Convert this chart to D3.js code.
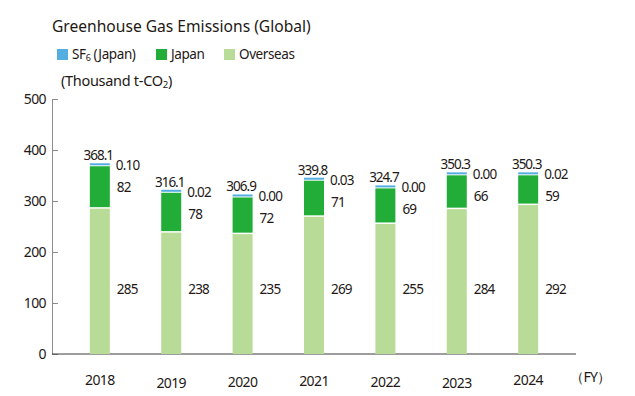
<!DOCTYPE html>
<html>
<head>
<meta charset="utf-8">
<script src="https://cdn.jsdelivr.net/npm/d3@7"></script>
<style>
  body { margin: 0; background: #fff; }
  svg text { font-family: "Noto Sans", "Open Sans", sans-serif; fill: #231815; }
</style>
</head>
<body>
<div id="chart"></div>
<script>
const years = ["2018", "2019", "2020", "2021", "2022", "2023", "2024"];
const overseas = [285, 238, 235, 269, 255, 284, 292];
const japan = [82, 78, 72, 71, 69, 66, 59];
const sf6 = ["0.10", "0.02", "0.00", "0.03", "0.00", "0.00", "0.02"];
const totals = [368.1, 316.1, 306.9, 339.8, 324.7, 350.3, 350.3];
const yTicks = [0, 100, 200, 300, 400, 500];

const colors = { sf6: "#55aee2", japan: "#22ac38", overseas: "#b8dc97" };

const width = 635, height = 396;
const margin = { top: 99, right: 59, bottom: 42, left: 52 };

const svg = d3.select("#chart").append("svg")
  .attr("width", width)
  .attr("height", height);

const x = d3.scalePoint()
  .domain(years)
  .range([margin.left, width - margin.right])
  .padding(0.67);

const y = d3.scaleLinear()
  .domain([0, 500])
  .range([height - margin.bottom, margin.top]);

const barW = 20;

// title + legend
svg.append("text")
  .attr("x", 52).attr("y", 32)
  .style("font-size", "15.6px")
  .text("Greenhouse Gas Emissions (Global)");

const legendItems = [
  { key: "sf6", label: "SF", sub: "6", rest: " (Japan)", x: 57 },
  { key: "japan", label: "Japan", x: 156 },
  { key: "overseas", label: "Overseas", x: 224 }
];
const lg = svg.append("g");
legendItems.forEach(d => {
  lg.append("rect")
    .attr("x", d.x).attr("y", 49)
    .attr("width", 11).attr("height", 11)
    .attr("fill", colors[d.key]);
  const t = lg.append("text")
    .attr("x", d.x + 15).attr("y", 59)
    .style("font-size", "13.5px")
    .style("letter-spacing", "-0.4px");
  t.append("tspan").text(d.label);
  if (d.sub) {
    t.append("tspan").attr("font-size", "9px").attr("dy", 2).text(d.sub);
    t.append("tspan").attr("dy", -2).text(d.rest);
  }
});

const unit = svg.append("text")
  .attr("x", 61).attr("y", 86)
  .style("font-size", "14.5px")
  .style("letter-spacing", "-0.3px");
unit.append("tspan").text("(Thousand t-CO");
unit.append("tspan").attr("font-size", "9.5px").attr("dy", 2).text("2");
unit.append("tspan").attr("dy", -2).text(")");

// axes
const yAxis = svg.append("g")
  .attr("transform", `translate(${margin.left},0)`)
  .call(d3.axisLeft(y).tickValues(yTicks).tickSize(-6).tickPadding(6));
yAxis.select(".domain").attr("stroke", "#8c8c8c");
yAxis.selectAll(".tick line").attr("stroke", "#8c8c8c");
yAxis.selectAll(".tick text")
  .style("font-size", "14px")
  .style("font-family", "'Noto Sans', sans-serif")
  .style("letter-spacing", "-0.6px")
  .attr("fill", "#231815");
yAxis.select(".tick:first-of-type line").remove();

svg.append("line")
  .attr("x1", margin.left).attr("x2", width - margin.right)
  .attr("y1", y(0)).attr("y2", y(0))
  .attr("stroke", "#3a3a3a").attr("stroke-width", 1);

const xLabelOffsets = [0, 3, 2, 1, 2, 3, 0];
svg.append("g").selectAll("text")
  .data(years)
  .join("text")
  .attr("x", d => x(d))
  .attr("y", (d, i) => y(0) + 31 + xLabelOffsets[i])
  .attr("text-anchor", "middle")
  .style("font-size", "14px")
  .style("letter-spacing", "-0.6px")
  .text(d => d);

svg.append("text")
  .attr("x", width - margin.right - 6)
  .attr("y", y(0) + 28)
  .style("font-size", "14px")
  .style("letter-spacing", "-0.6px")
  .text("（FY）");

// bars
const bars = svg.append("g").selectAll("g")
  .data(years)
  .join("g");

bars.append("rect")
  .attr("x", d => x(d) - barW / 2)
  .attr("y", (d, i) => y(overseas[i]))
  .attr("width", barW)
  .attr("height", (d, i) => y(0) - y(overseas[i]))
  .attr("fill", colors.overseas);

bars.append("rect")
  .attr("x", d => x(d) - barW / 2)
  .attr("y", (d, i) => y(totals[i]))
  .attr("width", barW)
  .attr("height", (d, i) => y(overseas[i]) - y(totals[i]) - 1.5)
  .attr("fill", colors.japan);

bars.append("rect")
  .attr("x", d => x(d) - barW / 2)
  .attr("y", (d, i) => y(totals[i]) - 3)
  .attr("width", barW)
  .attr("height", 2)
  .attr("fill", colors.sf6);

// value labels
const lblSize = "13.5px";
bars.append("text")
  .attr("x", d => x(d) - 1.5)
  .attr("y", (d, i) => y(totals[i]) - 6)
  .attr("text-anchor", "middle")
  .style("font-size", lblSize)
  .style("letter-spacing", "-1px")
  .text((d, i) => totals[i].toFixed(1));

bars.append("text")
  .attr("x", d => x(d) + barW / 2 + 6)
  .attr("y", (d, i) => y(totals[i]) + 4)
  .style("font-size", lblSize)
  .style("letter-spacing", "-0.8px")
  .text((d, i) => sf6[i]);

bars.append("text")
  .attr("x", d => x(d) + barW / 2 + 7)
  .attr("y", (d, i) => y(totals[i]) + 26)
  .style("font-size", lblSize)
  .style("letter-spacing", "-0.8px")
  .text((d, i) => japan[i]);

bars.append("text")
  .attr("x", d => x(d) + barW / 2 + 7)
  .attr("y", y(127) + 5)
  .style("font-size", lblSize)
  .style("letter-spacing", "-0.8px")
  .text((d, i) => overseas[i]);
</script>
</body>
</html>
